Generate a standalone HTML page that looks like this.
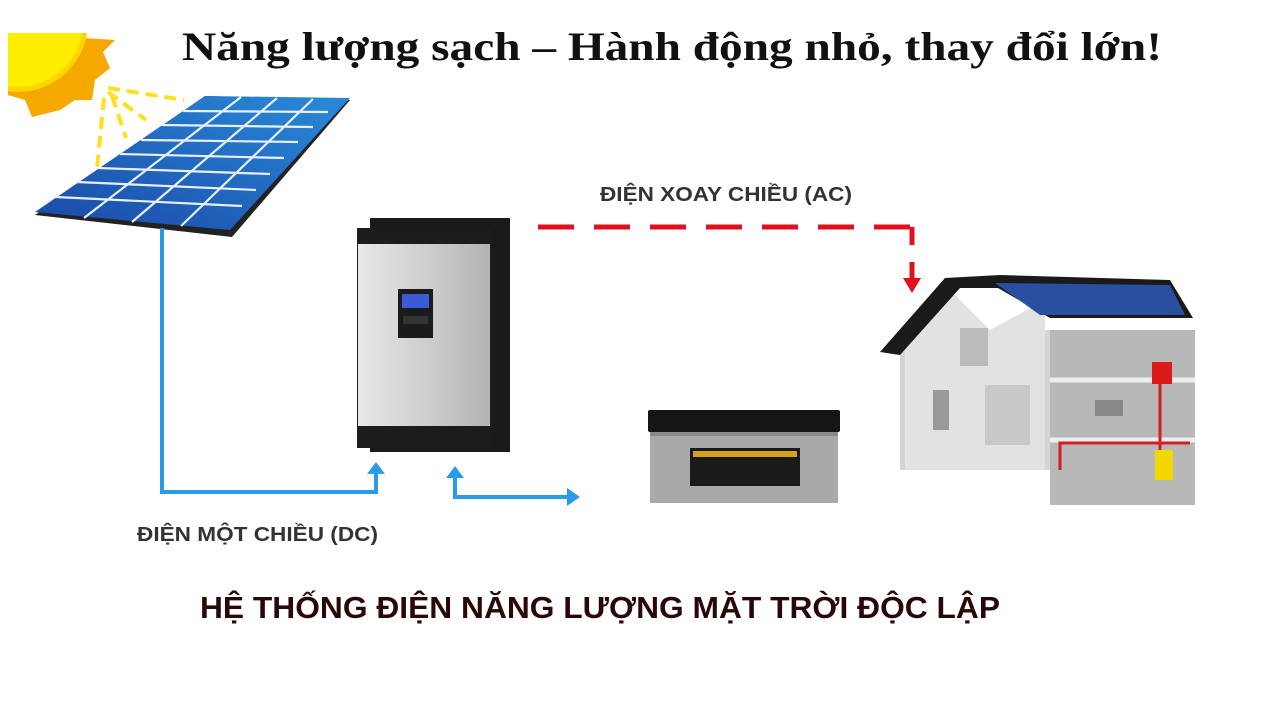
<!DOCTYPE html>
<html><head><meta charset="utf-8"><style>
html,body{margin:0;padding:0;background:#fff}
svg{display:block}
</style></head><body>
<svg width="1280" height="720" viewBox="0 0 1280 720" xmlns="http://www.w3.org/2000/svg">
<defs>
<clipPath id="sc"><rect x="8" y="33" width="200" height="200"/></clipPath>
<linearGradient id="silver" x1="0" x2="1" y1="0" y2="0"><stop offset="0" stop-color="#e8e8e8"/><stop offset="0.5" stop-color="#cfcfcf"/><stop offset="1" stop-color="#b4b4b4"/></linearGradient>
<linearGradient id="pan" x1="0" x2="1" y1="1" y2="0"><stop offset="0" stop-color="#1a49a8"/><stop offset="1" stop-color="#2a8ad8"/></linearGradient>
</defs>
<rect width="1280" height="720" fill="#fff"/>
<!-- sun -->
<g clip-path="url(#sc)">
<polygon points="8,33 115,40 103,52 110,68 95,80 92,100 75,100 60,110 32,117 25,100 8,95" fill="#f5a800"/>
<circle cx="18" cy="22" r="70" fill="#ffd400"/>
<circle cx="18" cy="22" r="65" fill="#ffee00"/>
</g>
<g stroke="#ffe020" stroke-width="4" stroke-dasharray="12,7" fill="none">
<line x1="108" y1="88" x2="184" y2="100"/>
<line x1="108" y1="92" x2="146" y2="120"/>
<line x1="112" y1="96" x2="126" y2="138"/>
<line x1="104" y1="98" x2="97" y2="168"/>
</g>
<!-- panel -->
<polygon points="35,215 205,96 350,100 232,237" fill="#222"/>
<polygon points="35,212 205,96 350,98 230,230" fill="url(#pan)"/>
<g stroke="#e8f0ff" stroke-width="2.2">
<line x1="56" y1="197" x2="242" y2="206"/>
<line x1="77" y1="182" x2="256" y2="190"/>
<line x1="98" y1="168" x2="270" y2="174"/>
<line x1="120" y1="154" x2="284" y2="158"/>
<line x1="141" y1="140" x2="298" y2="142"/>
<line x1="162" y1="125" x2="313" y2="127"/>
<line x1="183" y1="111" x2="328" y2="112"/>
<line x1="84" y1="218" x2="241" y2="97"/>
<line x1="132" y1="222" x2="277" y2="98"/>
<line x1="181" y1="226" x2="313" y2="99"/>
</g>
<!-- blue connectors -->
<g stroke="#2a9be8" stroke-width="4" fill="none">
<polyline points="162,228 162,492 376,492 376,472"/>
<polyline points="455,475 455,497 570,497"/>
</g>
<polygon points="367,474 376,462 385,474" fill="#2a9be8"/>
<polygon points="446,478 455,466 464,478" fill="#2a9be8"/>
<polygon points="567,488 580,497 567,506" fill="#2a9be8"/>
<!-- inverter -->
<rect x="370" y="218" width="140" height="234" fill="#1a1a1a"/>
<rect x="357" y="228" width="135" height="220" fill="#1c1c1c"/>
<rect x="358" y="244" width="132" height="182" fill="url(#silver)"/>
<rect x="398" y="289" width="35" height="49" fill="#1b1b1b"/>
<rect x="402" y="294" width="27" height="14" fill="#3a5ad8"/>
<rect x="403" y="316" width="25" height="8" fill="#333"/>
<!-- red AC -->
<polyline points="538,227 912,227" stroke="#e0101e" stroke-width="5" stroke-dasharray="36,20" fill="none"/>
<line x1="912" y1="227" x2="912" y2="245" stroke="#e0101e" stroke-width="5"/>
<line x1="912" y1="262" x2="912" y2="280" stroke="#e0101e" stroke-width="5"/>
<polygon points="903,278 912,293 921,278" fill="#e0101e"/>
<text x="600" y="201" font-family="'Liberation Sans',sans-serif" font-weight="bold" font-size="20" fill="#333" textLength="252" lengthAdjust="spacingAndGlyphs">ĐIỆN XOAY CHIỀU (AC)</text>
<text x="137" y="541" font-family="'Liberation Sans',sans-serif" font-weight="bold" font-size="20" fill="#333" textLength="241" lengthAdjust="spacingAndGlyphs">ĐIỆN MỘT CHIỀU (DC)</text>
<!-- battery -->
<rect x="650" y="428" width="188" height="75" fill="#a9a9a9"/>
<rect x="650" y="430" width="188" height="6" fill="#8a8a8a"/>
<rect x="648" y="410" width="192" height="22" rx="2" fill="#151515"/>
<rect x="690" y="448" width="110" height="38" fill="#1a1a1a"/>
<rect x="693" y="451" width="104" height="6" fill="#d8a020"/>
<!-- house -->
<polygon points="900,340 900,470 1050,470 1050,505 1195,505 1195,330 1050,330" fill="#d4d4d4"/>
<polygon points="905,345 950,290 990,330 1045,300 1045,470 905,470" fill="#e2e2e2"/>
<polygon points="1050,330 1195,330 1195,505 1050,505" fill="#b8b8b8"/>
<line x1="1050" y1="380" x2="1195" y2="380" stroke="#eee" stroke-width="5"/>
<line x1="1050" y1="440" x2="1195" y2="440" stroke="#eee" stroke-width="5"/>
<polygon points="880,352 945,278 1000,275 1170,280 1193,318 1050,318 998,288 960,288 900,355" fill="#1a1a1a"/>
<polygon points="995,283 1170,285 1185,315 1040,315" fill="#2a4fa0"/>
<rect x="960" y="328" width="28" height="38" fill="#bbb"/>
<rect x="933" y="390" width="16" height="40" fill="#999"/>
<rect x="985" y="385" width="45" height="60" fill="#c8c8c8"/>
<rect x="1152" y="362" width="20" height="22" fill="#dd1a1a"/>
<line x1="1160" y1="384" x2="1160" y2="480" stroke="#d02020" stroke-width="3"/>
<polyline points="1060,470 1060,443 1190,443" stroke="#d02020" stroke-width="3" fill="none"/>
<rect x="1155" y="450" width="18" height="30" fill="#f0d800"/>
<rect x="1095" y="400" width="28" height="16" fill="#888"/>
<!-- titles -->
<text x="672" y="60" text-anchor="middle" font-family="'Liberation Serif',serif" font-weight="bold" font-size="40" fill="#111" textLength="980" lengthAdjust="spacingAndGlyphs">Năng lượng sạch – Hành động nhỏ, thay đổi lớn!</text>
<text x="200" y="618" font-family="'Liberation Sans',sans-serif" font-weight="bold" font-size="31" fill="#2a0808" textLength="800" lengthAdjust="spacingAndGlyphs">HỆ THỐNG ĐIỆN NĂNG LƯỢNG MẶT TRỜI ĐỘC LẬP</text>
</svg>
</body></html>
